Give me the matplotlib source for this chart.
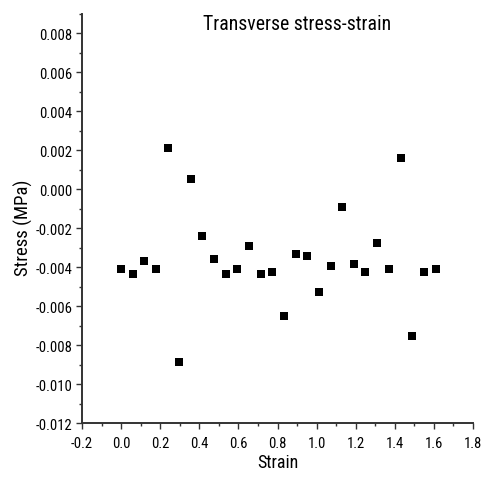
import matplotlib
matplotlib.use("Agg")
import matplotlib.pyplot as plt
from matplotlib.ticker import MultipleLocator, FormatStrFormatter

# strain and transverse stress values
strain = [0.0, 0.059, 0.117, 0.178, 0.238, 0.296, 0.356, 0.415, 0.477, 0.535,
          0.594, 0.654, 0.714, 0.773, 0.833, 0.893, 0.953, 1.012, 1.072, 1.131,
          1.191, 1.249, 1.310, 1.370, 1.430, 1.489, 1.549, 1.609]
stress = [-0.00411, -0.00437, -0.00370, -0.00411, 0.00211, -0.00886, 0.00053,
          -0.00238, -0.00356, -0.00437, -0.00409, -0.00291, -0.00437, -0.00423,
          -0.00649, -0.00331, -0.00343, -0.00528, -0.00396, -0.00093, -0.00384,
          -0.00423, -0.00278, -0.00409, 0.00159, -0.00754, -0.00423, -0.00409]

title = "Transverse stress-strain"
xlabel = "Strain"
ylabel = "Stress (MPa)"

plt.rcParams['font.family'] = ['Roboto Condensed', 'Liberation Sans', 'DejaVu Sans']
plt.rcParams['axes.unicode_minus'] = False

fig = plt.figure(figsize=(4.84, 4.81), dpi=100)
ax = fig.add_axes([82/484, 1 - 424/481, (473 - 82)/484, (424 - 15)/481])

ax.plot(strain, stress, linestyle="none", marker="s", markersize=5.2,
        color="black", markeredgewidth=0)

ax.set_xlim(-0.2, 1.8)
ax.set_ylim(-0.012, 0.009)
ax.xaxis.set_major_locator(MultipleLocator(0.2))
ax.xaxis.set_minor_locator(MultipleLocator(0.1))
ax.yaxis.set_major_locator(MultipleLocator(0.002))
ax.yaxis.set_minor_locator(MultipleLocator(0.001))
ax.xaxis.set_major_formatter(FormatStrFormatter("%.1f"))
ax.yaxis.set_major_formatter(FormatStrFormatter("%.3f"))

for side in ["top", "right"]:
    ax.spines[side].set_visible(False)
for side in ["left", "bottom"]:
    ax.spines[side].set_linewidth(1.4)
    ax.spines[side].set_color("#333333")

ax.tick_params(which="major", direction="out", length=4.5, width=1.0,
               labelsize=10.5, pad=2.5, color="#333333")
ax.tick_params(which="minor", direction="out", length=2.3, width=1.0,
               color="#333333")
ax.tick_params(axis="x", which="major", pad=5)

fig.text(23/484, 1 - 228/481, ylabel, rotation=90, fontsize=13.5,
         ha="center", va="center")
fig.text(278/484, 1 - 463/481, xlabel, fontsize=13, ha="center", va="center")
fig.text(297/484, 1 - 24/481, title, fontsize=14.2, ha="center", va="center")

fig.savefig("out.png", dpi=100)
